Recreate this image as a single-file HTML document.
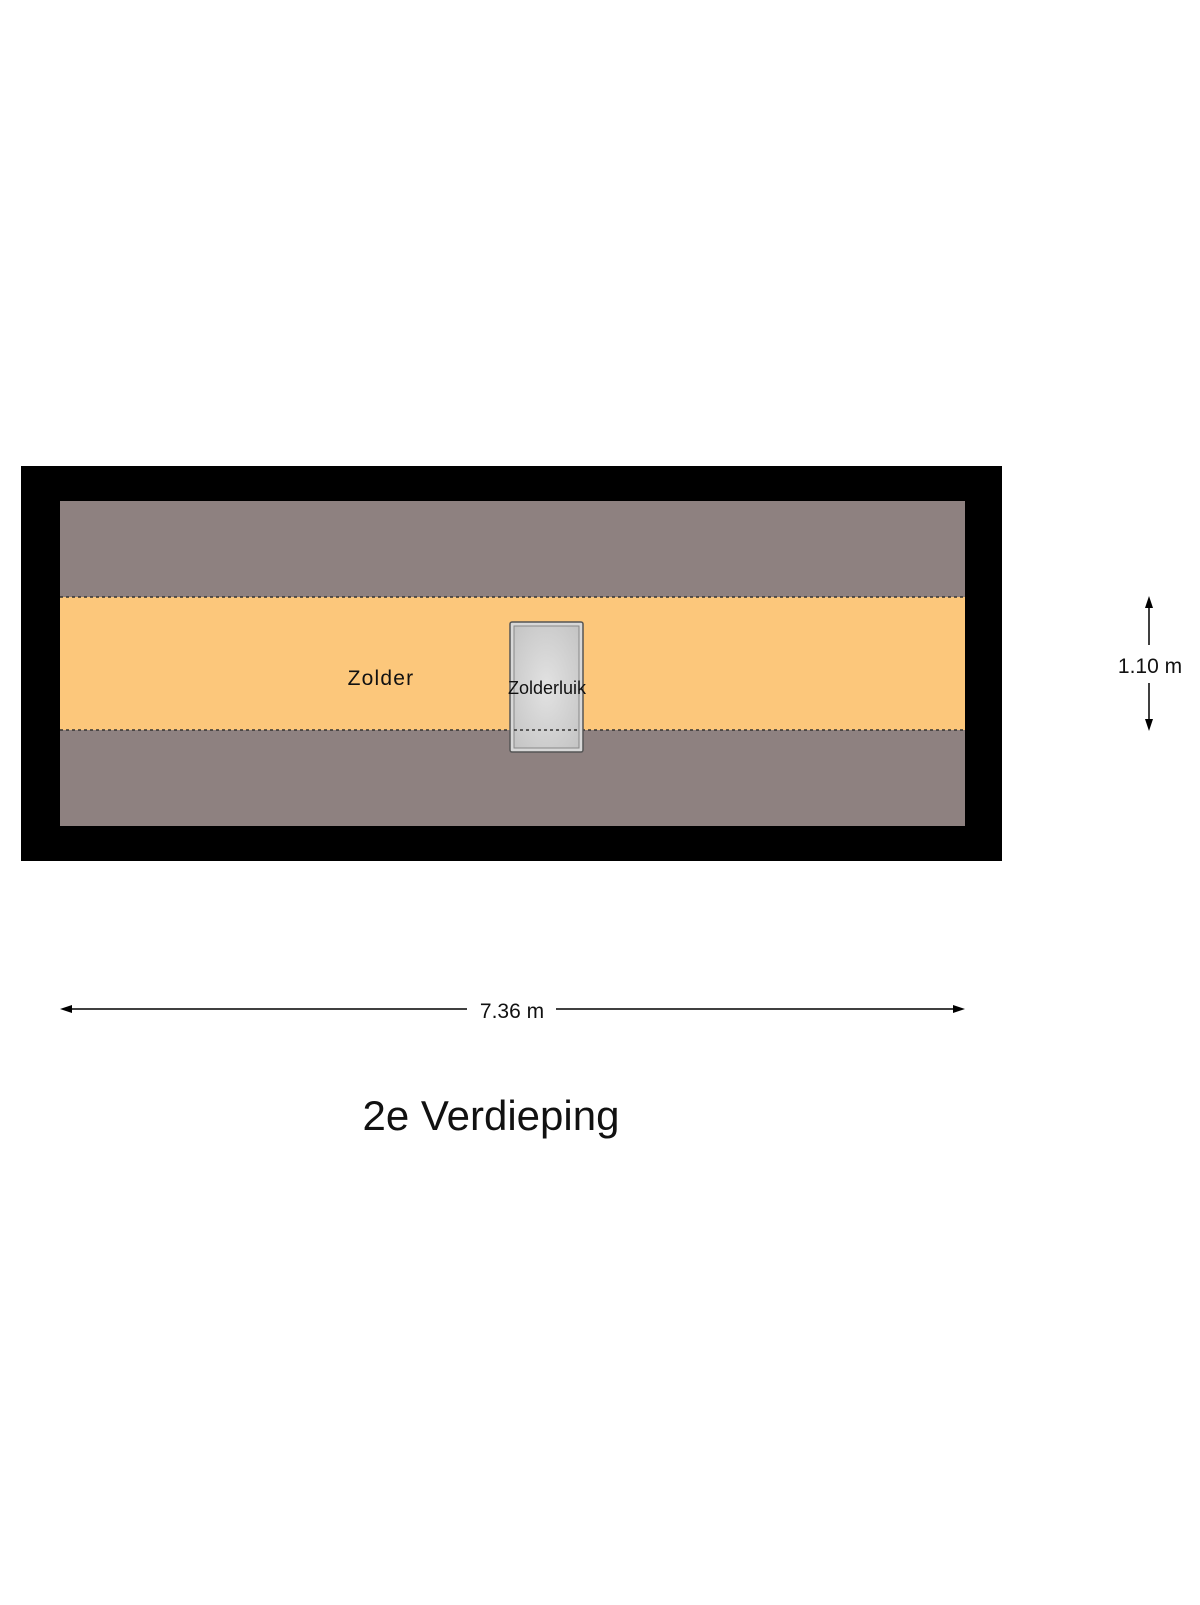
<!DOCTYPE html>
<html><head><meta charset="utf-8"><style>
html,body{margin:0;padding:0;background:#fff;}
</style></head><body>
<svg width="1200" height="1600" viewBox="0 0 1200 1600" xmlns="http://www.w3.org/2000/svg" font-family="Liberation Sans, sans-serif">
<defs>
<radialGradient id="g" cx="50%" cy="50%" r="70%"><stop offset="0" stop-color="#e2e2e2"/><stop offset="1" stop-color="#c4c4c4"/></radialGradient>
</defs>
<rect x="21" y="466" width="981" height="395" fill="#000"/>
<rect x="60" y="501" width="905" height="325" fill="#8e8180"/>
<rect x="60" y="597" width="905" height="133" fill="#fcc77b"/>
<line x1="60" y1="597" x2="965" y2="597" stroke="#333" stroke-width="1.5" stroke-dasharray="3,3"/>
<line x1="60" y1="730" x2="965" y2="730" stroke="#333" stroke-width="1.5" stroke-dasharray="3,3"/>
<rect x="510" y="622" width="73" height="130" fill="#d8d8d8" stroke="#555" stroke-width="1.5" rx="2"/>
<rect x="514" y="626" width="65" height="122" fill="url(#g)" stroke="#888" stroke-width="1"/>
<line x1="514" y1="730" x2="579" y2="730" stroke="#333" stroke-width="1.5" stroke-dasharray="3,3"/>
<text x="381" y="685" font-size="21" letter-spacing="1.2" text-anchor="middle" fill="#111">Zolder</text>
<text x="547" y="694" font-size="18" text-anchor="middle" fill="#111">Zolderluik</text>
<line x1="1149" y1="604" x2="1149" y2="645" stroke="#000" stroke-width="1.5"/>
<line x1="1149" y1="683" x2="1149" y2="722" stroke="#000" stroke-width="1.5"/>
<polygon points="1149,596 1145,608 1153,608" fill="#000"/>
<polygon points="1149,731 1145,719 1153,719" fill="#000"/>
<text x="1150" y="673" font-size="21" text-anchor="middle" fill="#111">1.10 m</text>
<line x1="68" y1="1009" x2="467" y2="1009" stroke="#000" stroke-width="1.5"/>
<line x1="556" y1="1009" x2="957" y2="1009" stroke="#000" stroke-width="1.5"/>
<polygon points="60,1009 72,1005 72,1013" fill="#000"/>
<polygon points="965,1009 953,1005 953,1013" fill="#000"/>
<text x="512" y="1018" font-size="21" text-anchor="middle" fill="#111">7.36 m</text>
<text x="491" y="1130" font-size="42" text-anchor="middle" fill="#111">2e Verdieping</text>
</svg>
</body></html>
